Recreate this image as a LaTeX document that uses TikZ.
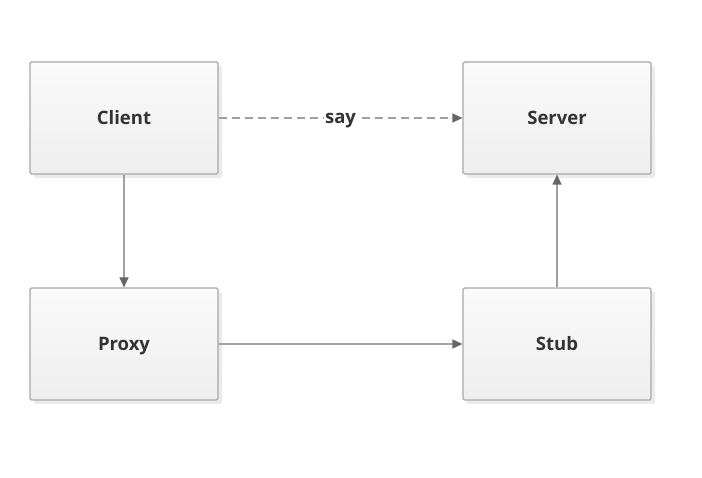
\documentclass[tikz,border=0pt]{standalone}
\usepackage{fontspec}
\setmainfont{Open Sans}
\usetikzlibrary{arrows.meta,shadows}
\definecolor{boxline}{HTML}{A8A8A8}
\definecolor{boxtop}{HTML}{FAFAFA}
\definecolor{boxbot}{HTML}{EEEEEE}
\definecolor{edgeline}{HTML}{A0A0A0}
\definecolor{tipcol}{HTML}{666666}
\definecolor{txtcol}{HTML}{333333}
\begin{document}
\begin{tikzpicture}[x=1pt,y=-1pt,
  blk/.style={draw=boxline, line width=1.2pt, rounded corners=1.5pt,
    top color=boxtop, bottom color=boxbot, minimum width=188pt, minimum height=112pt,
    inner sep=0pt, text height=14pt, text depth=0pt,
    font=\fontsize{18.5}{20}\selectfont\bfseries, text=txtcol,
    drop shadow={shadow xshift=4pt, shadow yshift=-4pt, fill=black!8, opacity=1}},
  conn/.style={draw=edgeline, line width=1.2pt, -{Triangle[length=10pt,width=9pt,fill=tipcol,color=tipcol]}},
  lbl/.style={fill=white, inner xsep=1pt, inner ysep=0.5pt, text height=13pt, text depth=1pt,
    font=\fontsize{18.5}{20}\selectfont\bfseries, text=txtcol}]
\useasboundingbox (0,0) rectangle (702,478);
\fill[white] (0,0) rectangle (702,478);
\node[blk] (client) at (124,118) {Client};
\node[blk] (server) at (557,118) {Server};
\node[blk] (proxy) at (124,344) {Proxy};
\node[blk] (stub) at (557,344) {Stub};
\draw[conn, dash pattern=on 8pt off 5pt] (client) -- node[lbl] {say} (server);
\draw[conn] (client) -- (proxy);
\draw[conn] (proxy) -- (stub);
\draw[conn] (stub) -- (server);
\end{tikzpicture}
\end{document}
